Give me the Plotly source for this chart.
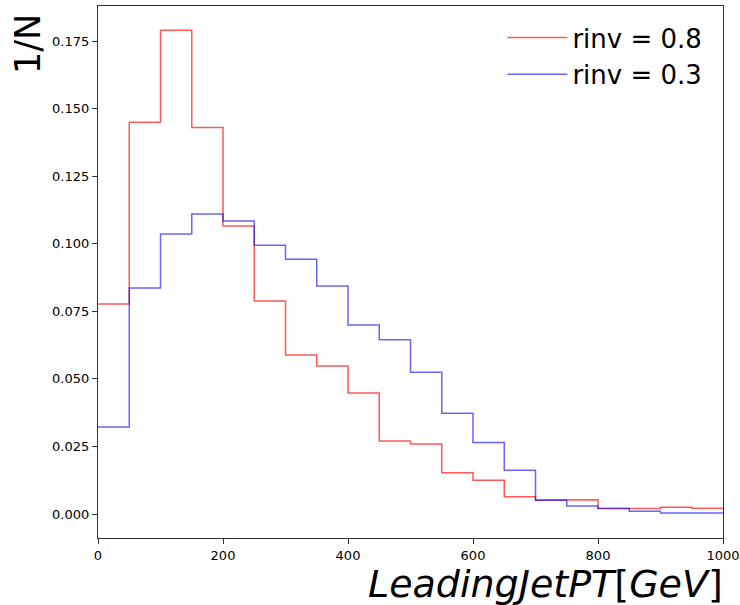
import plotly.graph_objects as go

bin_edges = [0, 50, 100, 150, 200, 250, 300, 350, 400, 450, 500,
             550, 600, 650, 700, 750, 800, 850, 900, 950, 1000]
rinv08 = [0.0777, 0.1450, 0.1790, 0.1430, 0.1066, 0.0788, 0.0588, 0.0548,
          0.0448, 0.0270, 0.0259, 0.0153, 0.0125, 0.0064, 0.0052, 0.0053,
          0.0021, 0.0020, 0.0025, 0.0021]
rinv03 = [0.0322, 0.0836, 0.1036, 0.1110, 0.1084, 0.0995, 0.0943, 0.0844,
          0.0699, 0.0645, 0.0525, 0.0373, 0.0265, 0.0162, 0.0051, 0.0030,
          0.0020, 0.0010, 0.0004, 0.0004]
labels = ["rinv = 0.8", "rinv = 0.3"]
colors = ["rgba(255,0,0,0.65)", "rgba(0,0,255,0.6)"]
y_ticks = [0.000, 0.025, 0.050, 0.075, 0.100, 0.125, 0.150, 0.175]
x_ticks = [0, 200, 400, 600, 800, 1000]


def step_xy(edges, vals):
    xs = []
    ys = []
    for i, v in enumerate(vals):
        xs += [edges[i], edges[i + 1]]
        ys += [v, v]
    return xs, ys


fig = go.Figure()
for vals, lab, col in zip([rinv08, rinv03], labels, colors):
    xs, ys = step_xy(bin_edges, vals)
    fig.add_trace(go.Scatter(x=xs, y=ys, mode="lines", name=lab,
                             line=dict(color=col, width=1.5)))

font = "DejaVu Sans, Liberation Sans, sans-serif"
fig.update_layout(
    width=740, height=605,
    margin=dict(l=98, r=17, t=6, b=67, autoexpand=False),
    paper_bgcolor="white", plot_bgcolor="white",
    font=dict(family=font, color="black"),
    showlegend=True,
    legend=dict(x=0.975, y=0.985, xanchor="right", yanchor="top",
                bgcolor="rgba(0,0,0,0)", font=dict(size=26, family=font),
                itemwidth=60, tracegroupgap=0),
    xaxis=dict(range=[0, 1000], tickvals=x_ticks, ticks="outside", ticklen=5,
               tickcolor="#333", showgrid=False, zeroline=False,
               automargin=False,
               showline=True, linecolor="#333", linewidth=1.2, mirror=True,
               tickfont=dict(size=13, family=font)),
    yaxis=dict(range=[-0.00888, 0.188], tickvals=y_ticks,
               ticktext=[f"{v:.3f}" for v in y_ticks],
               ticks="outside", ticklen=5, tickcolor="#333",
               showgrid=False, zeroline=False, automargin=False,
               showline=True, linecolor="#333", linewidth=1.2, mirror=True,
               tickfont=dict(size=13, family=font)),
    annotations=[
        dict(text="1/N", xref="paper", yref="paper", x=-0.112, y=1.0,
             xanchor="center", yanchor="top", textangle=-90, showarrow=False,
             font=dict(size=35, family=font), yshift=-6),
        dict(text="<i>LeadingJetPT</i>[<i>GeV</i>]", xref="paper",
             yref="paper", x=1.0, y=0, xanchor="right", yanchor="top",
             showarrow=False, font=dict(size=38, family=font),
             yshift=-22, xshift=2),
    ],
)

fig.write_html("out.html")
